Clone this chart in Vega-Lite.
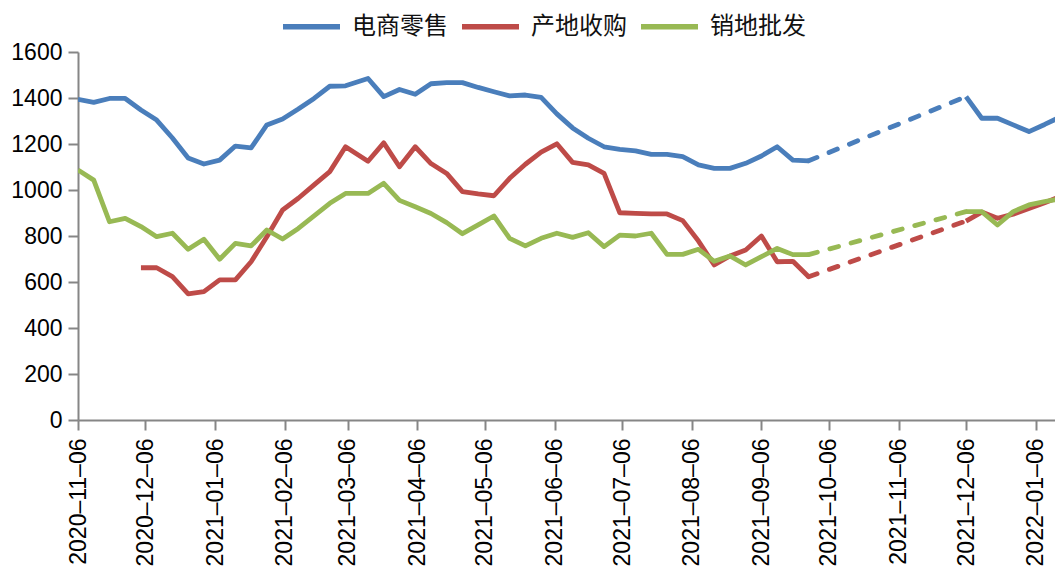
{
  "$schema": "https://vega.github.io/schema/vega-lite/v6.json",
  "autosize": {"type": "none"},
  "padding": {"left": 78, "top": 52, "right": 0, "bottom": 150},
  "width": 977,
  "height": 368,
  "background": "white",
  "config": {
    "view": {"stroke": null},
    "axis": {
      "domainColor": "#868686",
      "domainWidth": 2,
      "tickColor": "#868686",
      "tickWidth": 2,
      "tickSize": 10,
      "labelColor": "#000000",
      "labelFont": "Liberation Sans",
      "labelFontSize": 23,
      "grid": false,
      "title": null
    }
  },
  "data": {
    "values": [
      {"d": "2020-11-06", "s": "电商零售", "v": 1394, "p": "a"},
      {"d": "2020-11-13", "s": "电商零售", "v": 1381, "p": "a"},
      {"d": "2020-11-20", "s": "电商零售", "v": 1398, "p": "a"},
      {"d": "2020-11-27", "s": "电商零售", "v": 1398, "p": "a"},
      {"d": "2020-12-04", "s": "电商零售", "v": 1348, "p": "a"},
      {"d": "2020-12-11", "s": "电商零售", "v": 1304, "p": "a"},
      {"d": "2020-12-18", "s": "电商零售", "v": 1226, "p": "a"},
      {"d": "2020-12-25", "s": "电商零售", "v": 1139, "p": "a"},
      {"d": "2021-01-01", "s": "电商零售", "v": 1113, "p": "a"},
      {"d": "2021-01-08", "s": "电商零售", "v": 1130, "p": "a"},
      {"d": "2021-01-15", "s": "电商零售", "v": 1191, "p": "a"},
      {"d": "2021-01-22", "s": "电商零售", "v": 1183, "p": "a"},
      {"d": "2021-01-29", "s": "电商零售", "v": 1283, "p": "a"},
      {"d": "2021-02-05", "s": "电商零售", "v": 1309, "p": "a"},
      {"d": "2021-02-12", "s": "电商零售", "v": 1352, "p": "a"},
      {"d": "2021-02-19", "s": "电商零售", "v": 1398, "p": "a"},
      {"d": "2021-02-26", "s": "电商零售", "v": 1451, "p": "a"},
      {"d": "2021-03-05", "s": "电商零售", "v": 1453, "p": "a"},
      {"d": "2021-03-15", "s": "电商零售", "v": 1485, "p": "a"},
      {"d": "2021-03-22", "s": "电商零售", "v": 1406, "p": "a"},
      {"d": "2021-03-29", "s": "电商零售", "v": 1437, "p": "a"},
      {"d": "2021-04-05", "s": "电商零售", "v": 1416, "p": "a"},
      {"d": "2021-04-12", "s": "电商零售", "v": 1462, "p": "a"},
      {"d": "2021-04-19", "s": "电商零售", "v": 1467, "p": "a"},
      {"d": "2021-04-26", "s": "电商零售", "v": 1467, "p": "a"},
      {"d": "2021-05-03", "s": "电商零售", "v": 1446, "p": "a"},
      {"d": "2021-05-10", "s": "电商零售", "v": 1427, "p": "a"},
      {"d": "2021-05-17", "s": "电商零售", "v": 1409, "p": "a"},
      {"d": "2021-05-24", "s": "电商零售", "v": 1413, "p": "a"},
      {"d": "2021-05-31", "s": "电商零售", "v": 1403, "p": "a"},
      {"d": "2021-06-07", "s": "电商零售", "v": 1331, "p": "a"},
      {"d": "2021-06-14", "s": "电商零售", "v": 1270, "p": "a"},
      {"d": "2021-06-21", "s": "电商零售", "v": 1225, "p": "a"},
      {"d": "2021-06-28", "s": "电商零售", "v": 1188, "p": "a"},
      {"d": "2021-07-05", "s": "电商零售", "v": 1177, "p": "a"},
      {"d": "2021-07-12", "s": "电商零售", "v": 1170, "p": "a"},
      {"d": "2021-07-19", "s": "电商零售", "v": 1155, "p": "a"},
      {"d": "2021-07-26", "s": "电商零售", "v": 1155, "p": "a"},
      {"d": "2021-08-02", "s": "电商零售", "v": 1145, "p": "a"},
      {"d": "2021-08-09", "s": "电商零售", "v": 1109, "p": "a"},
      {"d": "2021-08-16", "s": "电商零售", "v": 1094, "p": "a"},
      {"d": "2021-08-23", "s": "电商零售", "v": 1094, "p": "a"},
      {"d": "2021-08-30", "s": "电商零售", "v": 1116, "p": "a"},
      {"d": "2021-09-06", "s": "电商零售", "v": 1148, "p": "a"},
      {"d": "2021-09-13", "s": "电商零售", "v": 1188, "p": "a"},
      {"d": "2021-09-20", "s": "电商零售", "v": 1130, "p": "a"},
      {"d": "2021-09-27", "s": "电商零售", "v": 1127, "p": "a"},
      {"d": "2021-12-06", "s": "电商零售", "v": 1406, "p": "b"},
      {"d": "2021-12-13", "s": "电商零售", "v": 1312, "p": "b"},
      {"d": "2021-12-20", "s": "电商零售", "v": 1312, "p": "b"},
      {"d": "2021-12-27", "s": "电商零售", "v": 1283, "p": "b"},
      {"d": "2022-01-03", "s": "电商零售", "v": 1254, "p": "b"},
      {"d": "2022-01-10", "s": "电商零售", "v": 1285, "p": "b"},
      {"d": "2022-01-17", "s": "电商零售", "v": 1318, "p": "b"},

      {"d": "2020-12-04", "s": "产地收购", "v": 662, "p": "a"},
      {"d": "2020-12-11", "s": "产地收购", "v": 662, "p": "a"},
      {"d": "2020-12-18", "s": "产地收购", "v": 623, "p": "a"},
      {"d": "2020-12-25", "s": "产地收购", "v": 548, "p": "a"},
      {"d": "2021-01-01", "s": "产地收购", "v": 558, "p": "a"},
      {"d": "2021-01-08", "s": "产地收购", "v": 609, "p": "a"},
      {"d": "2021-01-15", "s": "产地收购", "v": 609, "p": "a"},
      {"d": "2021-01-22", "s": "产地收购", "v": 688, "p": "a"},
      {"d": "2021-01-29", "s": "产地收购", "v": 797, "p": "a"},
      {"d": "2021-02-05", "s": "产地收购", "v": 913, "p": "a"},
      {"d": "2021-02-12", "s": "产地收购", "v": 964, "p": "a"},
      {"d": "2021-02-19", "s": "产地收购", "v": 1022, "p": "a"},
      {"d": "2021-02-26", "s": "产地收购", "v": 1080, "p": "a"},
      {"d": "2021-03-05", "s": "产地收购", "v": 1188, "p": "a"},
      {"d": "2021-03-15", "s": "产地收购", "v": 1125, "p": "a"},
      {"d": "2021-03-22", "s": "产地收购", "v": 1205, "p": "a"},
      {"d": "2021-03-29", "s": "产地收购", "v": 1101, "p": "a"},
      {"d": "2021-04-05", "s": "产地收购", "v": 1188, "p": "a"},
      {"d": "2021-04-12", "s": "产地收购", "v": 1115, "p": "a"},
      {"d": "2021-04-19", "s": "产地收购", "v": 1072, "p": "a"},
      {"d": "2021-04-26", "s": "产地收购", "v": 993, "p": "a"},
      {"d": "2021-05-03", "s": "产地收购", "v": 983, "p": "a"},
      {"d": "2021-05-10", "s": "产地收购", "v": 975, "p": "a"},
      {"d": "2021-05-17", "s": "产地收购", "v": 1051, "p": "a"},
      {"d": "2021-05-24", "s": "产地收购", "v": 1112, "p": "a"},
      {"d": "2021-05-31", "s": "产地收购", "v": 1165, "p": "a"},
      {"d": "2021-06-07", "s": "产地收购", "v": 1201, "p": "a"},
      {"d": "2021-06-14", "s": "产地收购", "v": 1120, "p": "a"},
      {"d": "2021-06-21", "s": "产地收购", "v": 1109, "p": "a"},
      {"d": "2021-06-28", "s": "产地收购", "v": 1072, "p": "a"},
      {"d": "2021-07-05", "s": "产地收购", "v": 901, "p": "a"},
      {"d": "2021-07-12", "s": "产地收购", "v": 898, "p": "a"},
      {"d": "2021-07-19", "s": "产地收购", "v": 896, "p": "a"},
      {"d": "2021-07-26", "s": "产地收购", "v": 896, "p": "a"},
      {"d": "2021-08-02", "s": "产地收购", "v": 867, "p": "a"},
      {"d": "2021-08-09", "s": "产地收购", "v": 778, "p": "a"},
      {"d": "2021-08-16", "s": "产地收购", "v": 674, "p": "a"},
      {"d": "2021-08-23", "s": "产地收购", "v": 713, "p": "a"},
      {"d": "2021-08-30", "s": "产地收购", "v": 739, "p": "a"},
      {"d": "2021-09-06", "s": "产地收购", "v": 800, "p": "a"},
      {"d": "2021-09-13", "s": "产地收购", "v": 688, "p": "a"},
      {"d": "2021-09-20", "s": "产地收购", "v": 690, "p": "a"},
      {"d": "2021-09-27", "s": "产地收购", "v": 623, "p": "a"},
      {"d": "2021-12-06", "s": "产地收购", "v": 865, "p": "b"},
      {"d": "2021-12-13", "s": "产地收购", "v": 904, "p": "b"},
      {"d": "2021-12-20", "s": "产地收购", "v": 877, "p": "b"},
      {"d": "2021-12-27", "s": "产地收购", "v": 895, "p": "b"},
      {"d": "2022-01-03", "s": "产地收购", "v": 920, "p": "b"},
      {"d": "2022-01-10", "s": "产地收购", "v": 945, "p": "b"},
      {"d": "2022-01-17", "s": "产地收购", "v": 972, "p": "b"},

      {"d": "2020-11-06", "s": "销地批发", "v": 1087, "p": "a"},
      {"d": "2020-11-13", "s": "销地批发", "v": 1043, "p": "a"},
      {"d": "2020-11-20", "s": "销地批发", "v": 862, "p": "a"},
      {"d": "2020-11-27", "s": "销地批发", "v": 877, "p": "a"},
      {"d": "2020-12-04", "s": "销地批发", "v": 841, "p": "a"},
      {"d": "2020-12-11", "s": "销地批发", "v": 797, "p": "a"},
      {"d": "2020-12-18", "s": "销地批发", "v": 812, "p": "a"},
      {"d": "2020-12-25", "s": "销地批发", "v": 742, "p": "a"},
      {"d": "2021-01-01", "s": "销地批发", "v": 786, "p": "a"},
      {"d": "2021-01-08", "s": "销地批发", "v": 699, "p": "a"},
      {"d": "2021-01-15", "s": "销地批发", "v": 768, "p": "a"},
      {"d": "2021-01-22", "s": "销地批发", "v": 757, "p": "a"},
      {"d": "2021-01-29", "s": "销地批发", "v": 826, "p": "a"},
      {"d": "2021-02-05", "s": "销地批发", "v": 787, "p": "a"},
      {"d": "2021-02-12", "s": "销地批发", "v": 833, "p": "a"},
      {"d": "2021-02-19", "s": "销地批发", "v": 887, "p": "a"},
      {"d": "2021-02-26", "s": "销地批发", "v": 942, "p": "a"},
      {"d": "2021-03-05", "s": "销地批发", "v": 985, "p": "a"},
      {"d": "2021-03-15", "s": "销地批发", "v": 985, "p": "a"},
      {"d": "2021-03-22", "s": "销地批发", "v": 1029, "p": "a"},
      {"d": "2021-03-29", "s": "销地批发", "v": 955, "p": "a"},
      {"d": "2021-04-05", "s": "销地批发", "v": 927, "p": "a"},
      {"d": "2021-04-12", "s": "销地批发", "v": 898, "p": "a"},
      {"d": "2021-04-19", "s": "销地批发", "v": 858, "p": "a"},
      {"d": "2021-04-26", "s": "销地批发", "v": 810, "p": "a"},
      {"d": "2021-05-03", "s": "销地批发", "v": 848, "p": "a"},
      {"d": "2021-05-10", "s": "销地批发", "v": 887, "p": "a"},
      {"d": "2021-05-17", "s": "销地批发", "v": 790, "p": "a"},
      {"d": "2021-05-24", "s": "销地批发", "v": 757, "p": "a"},
      {"d": "2021-05-31", "s": "销地批发", "v": 790, "p": "a"},
      {"d": "2021-06-07", "s": "销地批发", "v": 812, "p": "a"},
      {"d": "2021-06-14", "s": "销地批发", "v": 794, "p": "a"},
      {"d": "2021-06-21", "s": "销地批发", "v": 814, "p": "a"},
      {"d": "2021-06-28", "s": "销地批发", "v": 754, "p": "a"},
      {"d": "2021-07-05", "s": "销地批发", "v": 804, "p": "a"},
      {"d": "2021-07-12", "s": "销地批发", "v": 800, "p": "a"},
      {"d": "2021-07-19", "s": "销地批发", "v": 812, "p": "a"},
      {"d": "2021-07-26", "s": "销地批发", "v": 720, "p": "a"},
      {"d": "2021-08-02", "s": "销地批发", "v": 720, "p": "a"},
      {"d": "2021-08-09", "s": "销地批发", "v": 742, "p": "a"},
      {"d": "2021-08-16", "s": "销地批发", "v": 690, "p": "a"},
      {"d": "2021-08-23", "s": "销地批发", "v": 713, "p": "a"},
      {"d": "2021-08-30", "s": "销地批发", "v": 674, "p": "a"},
      {"d": "2021-09-06", "s": "销地批发", "v": 710, "p": "a"},
      {"d": "2021-09-13", "s": "销地批发", "v": 746, "p": "a"},
      {"d": "2021-09-20", "s": "销地批发", "v": 719, "p": "a"},
      {"d": "2021-09-27", "s": "销地批发", "v": 719, "p": "a"},
      {"d": "2021-12-06", "s": "销地批发", "v": 906, "p": "b"},
      {"d": "2021-12-13", "s": "销地批发", "v": 906, "p": "b"},
      {"d": "2021-12-20", "s": "销地批发", "v": 848, "p": "b"},
      {"d": "2021-12-27", "s": "销地批发", "v": 906, "p": "b"},
      {"d": "2022-01-03", "s": "销地批发", "v": 935, "p": "b"},
      {"d": "2022-01-10", "s": "销地批发", "v": 950, "p": "b"},
      {"d": "2022-01-17", "s": "销地批发", "v": 962, "p": "b"}
    ]
  },
  "encoding": {
    "x": {
      "field": "d",
      "type": "temporal",
      "scale": {
        "type": "utc",
        "domain": [
          {"year": 2020, "month": 11, "date": 6, "utc": true},
          {"year": 2022, "month": 1, "date": 14, "hours": 14, "utc": true}
        ]
      },
      "axis": {
        "values": [
          {"year": 2020, "month": 11, "date": 6, "utc": true},
          {"year": 2020, "month": 12, "date": 6, "utc": true},
          {"year": 2021, "month": 1, "date": 6, "utc": true},
          {"year": 2021, "month": 2, "date": 6, "utc": true},
          {"year": 2021, "month": 3, "date": 6, "utc": true},
          {"year": 2021, "month": 4, "date": 6, "utc": true},
          {"year": 2021, "month": 5, "date": 6, "utc": true},
          {"year": 2021, "month": 6, "date": 6, "utc": true},
          {"year": 2021, "month": 7, "date": 6, "utc": true},
          {"year": 2021, "month": 8, "date": 6, "utc": true},
          {"year": 2021, "month": 9, "date": 6, "utc": true},
          {"year": 2021, "month": 10, "date": 6, "utc": true},
          {"year": 2021, "month": 11, "date": 6, "utc": true},
          {"year": 2021, "month": 12, "date": 6, "utc": true},
          {"year": 2022, "month": 1, "date": 6, "utc": true}
        ],
        "format": "%Y–%m–%d",
        "labelAngle": 270,
        "labelPadding": 8,
        "labelOverlap": false,
        "labelFlush": false,
        "labelBound": false
      }
    },
    "y": {
      "field": "v",
      "type": "quantitative",
      "scale": {"domain": [0, 1600]},
      "axis": {
        "values": [0, 200, 400, 600, 800, 1000, 1200, 1400, 1600],
        "format": "d",
        "labelPadding": 6
      }
    },
    "color": {
      "field": "s",
      "type": "nominal",
      "scale": {
        "domain": ["电商零售", "产地收购", "销地批发"],
        "range": ["#4A7EBB", "#BE4B48", "#98B954"]
      },
      "legend": {
        "orient": "none",
        "legendX": 202,
        "legendY": -57,
        "direction": "horizontal",
        "title": null,
        "symbolType": "stroke",
        "symbolSize": 3249,
        "symbolStrokeWidth": 5.5,
        "labelFont": "Noto Sans CJK SC",
        "labelFontSize": 24,
        "labelColor": "#111111",
        "labelOffset": 9,
        "labelLimit": 300,
        "columnPadding": 3,
        "padding": 0
      }
    }
  },
  "layer": [
    {
      "mark": {"type": "line", "strokeWidth": 4.8, "strokeJoin": "round", "clip": true},
      "encoding": {"detail": {"field": "p", "type": "nominal"}}
    },
    {
      "transform": [
        {"filter": {"field": "d", "range": [
          {"year": 2021, "month": 9, "date": 27, "utc": true},
          {"year": 2021, "month": 12, "date": 6, "utc": true}
        ]}}
      ],
      "mark": {"type": "line", "strokeWidth": 4.8, "strokeDash": [9, 13], "strokeCap": "round", "clip": true},
      "encoding": {"color": {"field": "s", "type": "nominal", "legend": null}}
    }
  ]
}
